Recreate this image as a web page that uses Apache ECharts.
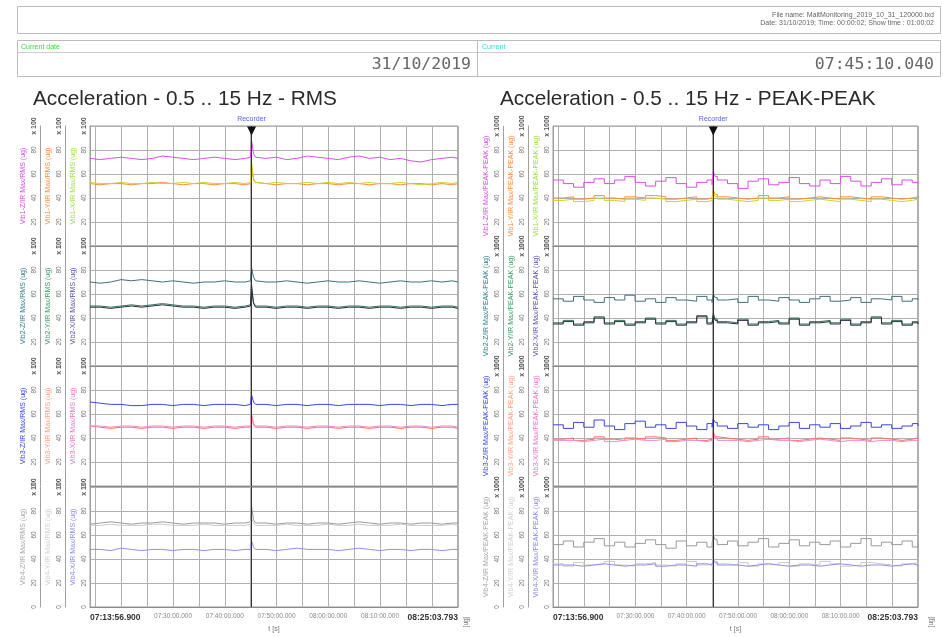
<!DOCTYPE html>
<html><head><meta charset="utf-8">
<script src="https://cdn.jsdelivr.net/npm/echarts@6/dist/echarts.min.js"></script>
<style>html,body{margin:0;padding:0;background:#fff}#c{width:943px;height:637px}</style>
</head><body><div id="c"></div>
<script>
// ---- data (minutes from 07:13:56.900) ----
const mins = [0,2,4,6,8, 10,12,14,16,18, 20,22,24,26,28, 30,31,31.22,31.6,32, 34,36,38,40,42, 44,46,48,50,52, 54,56,58,60,62, 64,66,68,70,71.115];

// x tick labels shown between the bold start / end stamps
const xLabelTimes = ['07:30', '07:40', '07:50', '08:00', '08:10'];

// RMS
const rmsZ1 = [73,72,73,74,73, 72,73,75,74,73, 72,73,74,73,72, 73,74,88,77,74, 73,74,72,73,75, 74,73,72,74,75, 73,74,72,73,71, 70,72,73,74,73];
const rmsY1 = [52,51,52,52,51, 52,52,53,52,51, 52,52,51,52,52, 51,52,66,55,53, 52,51,52,52,51, 52,52,51,52,52, 51,52,52,51,52, 52,51,52,51,52];
const rmsX1 = [53,52,52,53,52, 52,53,52,52,53, 52,53,52,52,53, 52,53,70,56,53, 52,53,52,52,53, 52,53,52,53,52, 53,52,52,53,52, 51,52,53,52,53];
const rmsZ2 = [70,69,70,72,71, 72,71,70,71,70, 69,70,70,71,70, 70,71,82,74,71, 70,70,71,70,69, 70,71,70,70,71, 70,69,70,71,70, 70,71,70,71,70];
const rmsY2 = [50,50,49,50,51, 50,51,52,51,50, 50,49,50,50,49, 50,51,62,53,50, 50,49,50,50,49, 50,50,49,50,50, 49,50,50,49,50, 50,49,50,50,49];
const rmsX2 = [49,49,48,49,50, 49,50,51,50,49, 49,48,49,49,48, 49,50,68,52,49, 49,48,49,49,48, 49,49,48,49,49, 48,49,49,48,49, 49,48,49,49,48];
const rmsZ3 = [70,69,68,68,67, 67,68,68,67,68, 68,67,68,68,68, 67,68,76,70,68, 68,67,68,68,67, 68,68,67,68,68, 68,67,68,68,67, 68,68,67,68,68];
const rmsY3 = [50,49,48,49,49, 48,49,49,48,49, 49,48,49,49,48, 49,49,60,51,49, 49,48,49,49,48, 49,49,48,49,49, 48,49,49,48,49, 49,48,49,49,48];
const rmsX3 = [50,50,49,50,50, 49,50,50,49,50, 50,49,50,50,49, 50,50,58,52,50, 50,49,50,50,49, 50,50,49,50,50, 49,50,50,49,50, 50,49,50,50,49];
const rmsZ4 = [69,70,71,70,69, 70,70,71,70,69, 70,70,70,69,70, 70,71,84,73,70, 70,69,70,70,69, 70,70,69,70,71, 70,69,70,70,69, 70,70,69,70,70];
const rmsY4 = [68,68,69,68,68, 68,69,69,68,68, 68,69,68,68,68, 68,69,74,70,68, 68,68,69,68,68, 68,69,68,68,69, 68,68,68,69,68, 68,68,68,69,68];
const rmsX4 = [48,48,47,49,48, 47,48,48,47,48, 48,47,48,48,47, 48,48,55,50,48, 48,47,48,49,48, 48,48,47,48,49, 48,47,48,48,47, 48,48,47,48,48];

// PEAK-PEAK
const ppZ1 = [55,52,49,53,56, 52,55,58,53,50, 54,57,52,49,53, 55,51,62,58,55, 52,48,54,56,51, 53,57,52,50,55, 52,58,54,50,53, 56,51,55,53,52];
const ppY1 = [40,41,39,40,42, 40,39,41,40,42, 41,39,40,41,39, 40,41,47,43,41, 40,39,40,42,40, 41,39,40,41,40, 39,41,40,39,41, 40,39,40,41,40];
const ppX1 = [38,39,37,38,40, 38,37,39,38,40, 39,37,38,39,37, 38,39,44,41,39, 38,37,38,40,38, 39,37,38,39,38, 37,39,38,37,39, 38,37,38,39,38];
const ppZ2 = [56,54,58,55,53, 57,55,59,54,56, 53,57,55,54,58, 55,53,60,57,55, 56,53,58,55,54, 57,55,53,56,58, 54,55,57,53,56, 55,58,54,56,55];
const ppY2 = [36,38,35,37,41, 36,38,35,37,40, 36,38,35,37,42, 36,37,44,39,37, 36,39,35,37,38, 36,40,35,37,38, 36,39,35,37,41, 36,38,35,37,36];
const ppX2 = [35,37,34,36,40, 35,37,34,36,39, 35,37,34,36,41, 35,36,42,38,36, 35,38,34,36,37, 35,39,34,36,37, 35,38,34,36,40, 35,37,34,36,35];
const ppZ3 = [51,48,53,49,55, 50,47,52,54,49, 51,48,53,50,47, 52,49,56,53,50, 48,52,49,51,47, 50,53,48,51,49, 52,48,50,53,49, 51,48,50,52,50];
const ppY3 = [39,40,38,39,41, 39,38,40,39,41, 40,38,39,40,38, 39,40,45,41,40, 39,38,39,41,39, 40,38,39,40,39, 38,40,39,38,40, 39,38,39,40,39];
const ppX3 = [38,38,37,38,39, 37,38,39,38,38, 39,37,38,38,37, 38,39,43,40,38, 38,37,38,39,38, 38,37,38,39,38, 37,38,38,37,38, 38,37,38,38,37];
const ppZ4 = [52,55,50,54,57, 51,54,50,53,56, 52,49,55,51,54, 50,53,60,56,52, 55,51,54,57,50, 53,56,51,54,52, 55,50,53,57,51, 54,52,55,50,53];
const ppY4 = [36,34,37,35,36, 38,35,34,36,37, 35,34,36,38,35, 36,34,41,38,36, 35,37,34,36,35, 37,34,36,35,38, 36,34,35,37,36, 35,34,36,37,35];
const ppX4 = [35,35,34,35,36, 35,34,35,35,36, 34,35,35,34,36, 35,35,39,37,35, 35,34,35,36,35, 34,35,35,34,35, 36,35,34,35,35, 34,35,36,35,34];

const tStart = Date.UTC(2019, 9, 31, 7, 13, 56, 900);
const tEnd = Date.UTC(2019, 9, 31, 8, 25, 3, 793);
const tRecorder = Date.UTC(2019, 9, 31, 7, 45, 10, 40);

const lineColors = [
  {Z:'#d94fe8', Y:'#ff8c3a', X:'#c8d428'},
  {Z:'#3f6f7c', Y:'#2f7a4e', X:'#2b2b48'},
  {Z:'#3a46e0', Y:'#ff6f5e', X:'#f28ac8'},
  {Z:'#9a9a9a', Y:'#c9c9c9', X:'#8f8fe8'}
];
const nameColors = [
  {Z:'#d54be6', Y:'#ff8a3d', X:'#9be03c'},
  {Z:'#2f7f8e', Y:'#3a9a62', X:'#5a4fb0'},
  {Z:'#3446e6', Y:'#ffa07a', X:'#ee70c6'},
  {Z:'#a8a8a8', Y:'#d0d0d0', X:'#8a8ae6'}
];

const charts = [
  {kind:'RMS', left:90, right:485, mult:'x 100', xName:'t [s]', step:false,
   data:[{Z:rmsZ1,Y:rmsY1,X:rmsX1},{Z:rmsZ2,Y:rmsY2,X:rmsX2},{Z:rmsZ3,Y:rmsY3,X:rmsX3},{Z:rmsZ4,Y:rmsY4,X:rmsX4}]},
  {kind:'PEAK-PEAK', left:553, right:25, mult:'x 1000', xName:'t [s]', step:'end',
   data:[{Z:ppZ1,Y:ppY1,X:ppX1},{Z:ppZ2,Y:ppY2,X:ppX2},{Z:ppZ3,Y:ppY3,X:ppX3},{Z:ppZ4,Y:ppY4,X:ppX4}]}
];
const panelTops = [126, 246, 366, 487];
const panelH = 120;

function fmtTime(v){
  const d = new Date(v);
  const p = (n, l=2) => String(n).padStart(l, '0');
  return p(d.getUTCHours())+':'+p(d.getUTCMinutes())+':'+p(d.getUTCSeconds())+'.'+p(d.getUTCMilliseconds(),3);
}
function hhmm(v){
  const d = new Date(v);
  return String(d.getUTCHours()).padStart(2,'0') + ':' + String(d.getUTCMinutes()).padStart(2,'0');
}
function xLabel(v){
  if (Math.abs(v - tStart) < 1 || Math.abs(v - tEnd) < 1) return '{b|' + fmtTime(v) + '}';
  const d = new Date(v);
  if (d.getUTCSeconds() === 0 && d.getUTCMilliseconds() === 0 && xLabelTimes.indexOf(hhmm(v)) >= 0) return fmtTime(v);
  return '';
}

const grids = [], xAxes = [], yAxes = [], series = [];
const FONT = 'Liberation Sans';
charts.forEach((ch) => {
  for (let p = 0; p < 4; p++) {
    const g = grids.length;
    grids.push({left: ch.left, right: ch.right, top: panelTops[p], height: panelH,
      show: true, borderColor: '#9a9a9a', borderWidth: 1, backgroundColor: 'transparent'});
    const last = p === 3;
    xAxes.push({
      type: 'time', gridIndex: g, min: tStart, max: tEnd, splitNumber: 7,
      minInterval: 600000, maxInterval: 600000,
      axisLine: {show: true, lineStyle: {color: '#8a8a8a'}},
      axisTick: {show: false},
      splitLine: {show: true, lineStyle: {color: '#b0b0b0', width: 1}},
      axisLabel: last ? {
        show: true, fontSize: 6.5, color: '#888', margin: 6, fontFamily: FONT,
        showMinLabel: true, showMaxLabel: true, alignMinLabel: 'left', alignMaxLabel: 'right',
        hideOverlap: false, interval: 0,
        formatter: xLabel,
        rich: {b: {fontSize: 8.5, fontWeight: 'bold', color: '#333', fontFamily: FONT}}
      } : {show: false},
      name: last ? ch.xName : '', nameLocation: 'middle', nameGap: 19,
      nameTextStyle: {fontSize: 7, color: '#777', fontFamily: FONT}
    });
    const axisIdx = {};
    ['X', 'Y', 'Z'].forEach((k, ki) => {
      axisIdx[k] = yAxes.length;
      yAxes.push({
        type: 'value', gridIndex: g, position: 'left', offset: ki * 25,
        min: 0, max: 100, interval: 20,
        name: 'Vib' + (p + 1) + '-' + k + '/IR Max/' + ch.kind + ' (ug)',
        nameLocation: 'middle', nameRotate: 90, nameGap: 13,
        nameTextStyle: {color: nameColors[p][k], fontSize: 7, fontFamily: FONT},
        axisLine: {show: true, lineStyle: {color: '#a0a0a0'}},
        axisTick: {show: false},
        axisLabel: {rotate: 90, fontSize: 6.5, color: '#777', margin: 2, fontFamily: FONT,
          formatter: (v) => v === 100 ? '{m|' + ch.mult + '}' : String(v),
          rich: {m: {fontSize: 7, fontWeight: 'bold', color: '#555', fontFamily: FONT}}},
        splitLine: {show: ki === 0, lineStyle: {color: '#b0b0b0', width: 1}}
      });
    });
    ['Z', 'Y', 'X'].forEach((k, si) => {
      const vals = ch.data[p][k];
      const s = {
        type: 'line', xAxisIndex: g, yAxisIndex: axisIdx[k], step: ch.step,
        symbol: 'none', silent: true, z: 3,
        lineStyle: {color: lineColors[p][k], width: 1},
        data: mins.map((m, i) => [tStart + m * 60000, vals[i]])
      };
      if (si === 0) {
        s.markLine = {
          silent: true, symbol: ['none', 'none'], animation: false,
          lineStyle: {color: '#333', width: 1, type: 'solid'},
          label: p === 0 ? {show: true, position: 'end', formatter: 'Recorder', color: '#5566dd', fontSize: 7, distance: 3, fontFamily: FONT} : {show: false},
          data: [{xAxis: tRecorder}]
        };
        if (p === 0) {
          s.markPoint = {
            silent: true, symbol: 'triangle', symbolRotate: 180, symbolSize: 9, symbolOffset: [0, 5],
            itemStyle: {color: '#111'}, label: {show: false},
            data: [{coord: [tRecorder, 100]}]
          };
        }
      }
      series.push(s);
    });
  }
});

const T = (text, x, y, o) => Object.assign({type: 'text', silent: true, style: Object.assign({text, x, y, fill: '#555', font: '7px "Liberation Sans"'}, o || {})});

const graphic = [
  {type: 'rect', silent: true, shape: {x: 17.5, y: 6.5, width: 923, height: 27}, style: {fill: '#fff', stroke: '#bbb', lineWidth: 1}},
  T('File name: MaltMonitoring_2019_10_31_120000.txd', 934, 15, {textAlign: 'right', textVerticalAlign: 'middle', fill: '#666'}),
  T('Date: 31/10/2019; Time: 00:00:02; Show time : 01:00:02', 934, 23, {textAlign: 'right', textVerticalAlign: 'middle', fill: '#666'}),
  {type: 'rect', silent: true, shape: {x: 17.5, y: 40.5, width: 923, height: 36}, style: {fill: '#fff', stroke: '#bbb', lineWidth: 1}},
  {type: 'line', silent: true, shape: {x1: 17.5, y1: 52.5, x2: 940.5, y2: 52.5}, style: {stroke: '#ccc', lineWidth: 1}},
  {type: 'line', silent: true, shape: {x1: 477.5, y1: 40.5, x2: 477.5, y2: 76.5}, style: {stroke: '#bbb', lineWidth: 1}},
  T('Current date', 21, 47, {fill: '#33dd33', textVerticalAlign: 'middle'}),
  T('Current', 482, 47, {fill: '#33dddd', textVerticalAlign: 'middle'}),
  T('31/10/2019', 471, 65, {textAlign: 'right', textVerticalAlign: 'middle', fill: '#666', font: '16.5px "DejaVu Sans Mono"'}),
  T('07:45:10.040', 934, 65, {textAlign: 'right', textVerticalAlign: 'middle', fill: '#666', font: '16.5px "DejaVu Sans Mono"'}),
  T('Acceleration - 0.5 .. 15 Hz - RMS', 33, 99, {textVerticalAlign: 'middle', fill: '#2a2a2a', font: '20.8px "Liberation Sans"'}),
  T('Acceleration - 0.5 .. 15 Hz - PEAK-PEAK', 500, 99, {textVerticalAlign: 'middle', fill: '#2a2a2a', font: '20.8px "Liberation Sans"'}),
  {type: 'text', silent: true, x: 466, y: 622, rotation: Math.PI / 2, style: {text: '[ug]', fill: '#777', font: '6.5px "Liberation Sans"', textAlign: 'center', textVerticalAlign: 'middle'}},
  {type: 'text', silent: true, x: 931, y: 622, rotation: Math.PI / 2, style: {text: '[ug]', fill: '#777', font: '6.5px "Liberation Sans"', textAlign: 'center', textVerticalAlign: 'middle'}}
];

const chart = echarts.init(document.getElementById('c'), null, {renderer: 'canvas'});
chart.setOption({
  useUTC: true,
  animation: false,
  backgroundColor: '#fff',
  textStyle: {fontFamily: FONT},
  grid: grids, xAxis: xAxes, yAxis: yAxes, series: series,
  graphic: graphic
});
</script>
</body></html>
